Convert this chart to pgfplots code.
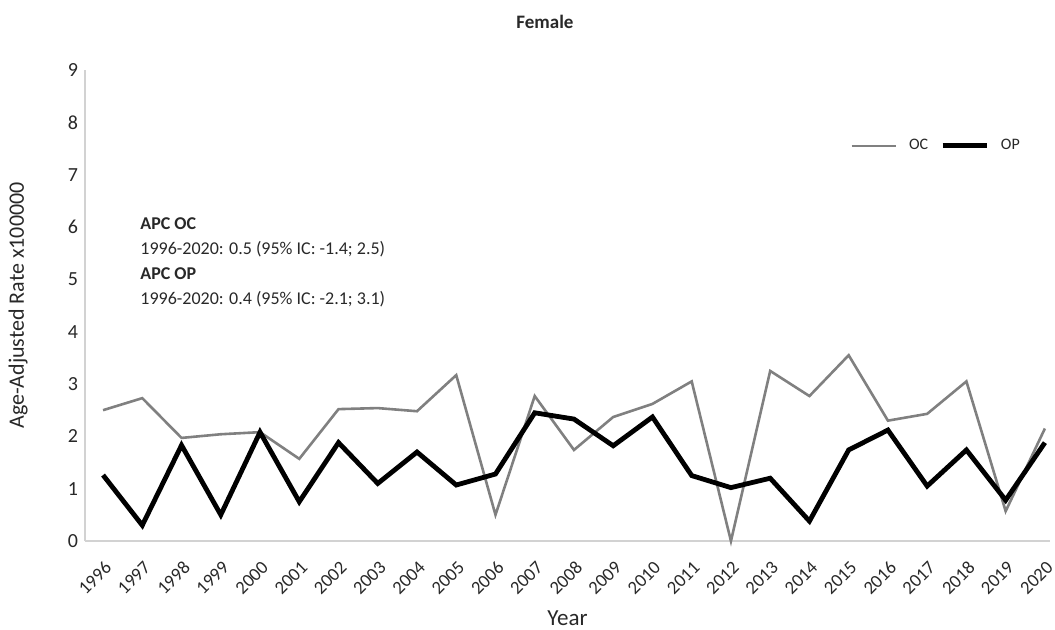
\documentclass[border=0pt]{standalone}
\usepackage{pgfplots}
\pgfplotsset{compat=1.18}
\usepackage{fontspec}
\setmainfont{Carlito}
\definecolor{ocgray}{RGB}{128,128,128}
\definecolor{axgray}{RGB}{210,210,210}
\definecolor{txt}{RGB}{40,40,40}
\begin{document}
\begin{tikzpicture}
\path[use as bounding box] (-42.5pt,-44pt) rectangle (485pt,270.5pt);
\begin{axis}[
  at={(0,0)}, anchor=origin,
  scale only axis, width=482.5pt, height=235.5pt,
  xmin=1995.54, xmax=2020.13, ymin=0, ymax=9,
  axis x line*=bottom, axis y line*=left,
  axis line style={draw=axgray, line width=0.8pt},
  x axis line style={-}, y axis line style={-},
  xtick={1996,...,2020}, ytick={0,...,9},
  major tick length=0pt,
  /pgf/number format/assume math mode=true,
  xticklabel style={rotate=45, anchor=north east, xshift=-3pt, yshift=-3.5pt, font=\fontsize{9.3}{10}\selectfont, text=txt, /pgf/number format/1000 sep={}},
  xticklabel={\pgfmathprintnumber[1000 sep={}]{\tick}},
  yticklabel style={font=\fontsize{10}{11}\selectfont, text=txt},
  xlabel={Year}, ylabel={Age-Adjusted Rate x100000},
  xlabel style={at={(axis description cs:0.5,-0.1635)}, anchor=center, font=\fontsize{11.5}{13}\selectfont, text=txt},
  ylabel style={at={(axis description cs:-0.0694,0.5)}, anchor=center, rotate=0, font=\fontsize{11}{13}\selectfont, text=txt},
  legend columns=2,
  legend style={draw=none, fill=none, at={(rel axis cs:0.883,0.839)}, anchor=center, font=\fontsize{8}{9}\selectfont, text=txt, column sep=4pt},
  legend image code/.code={\draw[#1] (0pt,0pt) -- (22pt,0pt);},
  clip=false,
]
\addplot[ocgray, line width=1.3pt] coordinates {
(1996,2.50) (1997,2.73) (1998,1.97) (1999,2.04) (2000,2.08) (2001,1.57) (2002,2.52) (2003,2.54) (2004,2.48) (2005,3.17) (2006,0.50) (2007,2.77) (2008,1.74) (2009,2.37) (2010,2.62) (2011,3.05) (2012,0.00) (2013,3.25) (2014,2.77) (2015,3.55) (2016,2.30) (2017,2.43) (2018,3.05) (2019,0.57) (2020,2.15)};
\addlegendentry{OC}
\addplot[black, line width=2.4pt] coordinates {
(1996,1.26) (1997,0.30) (1998,1.83) (1999,0.50) (2000,2.08) (2001,0.75) (2002,1.88) (2003,1.10) (2004,1.70) (2005,1.07) (2006,1.28) (2007,2.45) (2008,2.33) (2009,1.82) (2010,2.37) (2011,1.25) (2012,1.02) (2013,1.20) (2014,0.38) (2015,1.74) (2016,2.12) (2017,1.05) (2018,1.74) (2019,0.78) (2020,1.88)};
\addlegendentry{OP}
\node[anchor=north west, align=left, font=\fontsize{9}{12.5}\selectfont, text=txt, inner sep=0pt] at (rel axis cs:0.057,0.688)
{\textbf{APC OC}\\1996-2020: 0.5 (95\% IC: -1.4; 2.5)\\\textbf{APC OP}\\1996-2020: 0.4 (95\% IC: -2.1; 3.1)};
\end{axis}
\node[font=\bfseries\fontsize{9.5}{11}\selectfont, text=txt] at (230pt,259.5pt) {Female};
\end{tikzpicture}
\end{document}
